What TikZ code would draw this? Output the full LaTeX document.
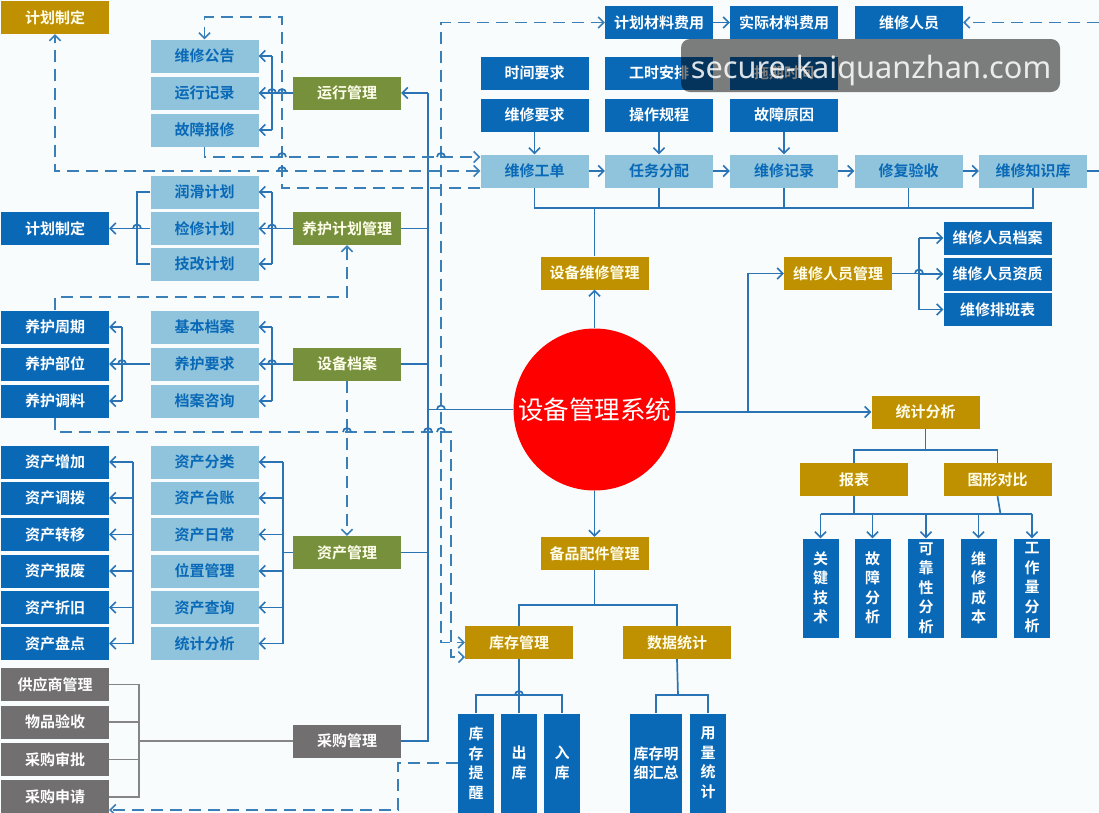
\documentclass[tikz,border=0pt]{standalone}
\usepackage{fontspec}
\setmainfont{Noto Sans CJK SC}[BoldFont={Noto Sans CJK SC Bold}]
\newfontfamily\wmfont{Noto Sans}
\usetikzlibrary{arrows.meta,calc}
\definecolor{cgold}{HTML}{BF9000}
\definecolor{cgreen}{HTML}{76903C}
\definecolor{cblue}{HTML}{0A69B7}
\definecolor{clight}{HTML}{8FC4DC}
\definecolor{cgrey}{HTML}{716F6F}
\definecolor{cline}{HTML}{2A74B5}
\definecolor{cdash}{HTML}{3A7FB8}
\definecolor{cglink}{HTML}{858585}
\definecolor{cbg}{HTML}{F8FCFC}
\tikzset{
  x=1pt,y=-1pt,
  box/.style={minimum width=108pt,minimum height=33pt,inner sep=0pt,font=\fontsize{15}{19.5}\selectfont\bfseries,text centered},
  gold/.style={box,fill=cgold,text=white!92!yellow},
  green/.style={box,fill=cgreen,text=white!92!yellow},
  blue/.style={box,fill=cblue,text=white},
  light/.style={box,fill=clight,text=cblue},
  grey/.style={box,fill=cgrey,text=white},
  tall/.style={blue,minimum width=36pt,minimum height=99pt,text width=18pt,align=center},
  lnk/.style={draw=cline,line width=1.7pt},
  arr/.style={lnk,-{Straight Barb[length=5.5pt,width=11pt,line width=1.6pt]}},
  dsh/.style={draw=cdash,line width=1.8pt,dash pattern=on 12pt off 7pt},
  darr/.style={dsh,-{Straight Barb[length=5.5pt,width=11pt,line width=1.6pt]}},
  dboth/.style={dsh,{Straight Barb[length=5.5pt,width=11pt,line width=1.6pt]}-{Straight Barb[length=5.5pt,width=11pt,line width=1.6pt]}},
  gln/.style={draw=cglink,line width=1.7pt},
}
\newcommand{\hop}[2]{\draw[lnk] (#1-4,#2) arc[start angle=180,end angle=360,radius=4];}
\begin{document}
\begin{tikzpicture}
\useasboundingbox (0,0) rectangle (1099,812);
\fill[cbg] (0,0) rectangle (1099,812);
% left column
\node[gold] (pg) at (55,17.5) {计划制定};
\node[blue] (pb) at (55,228.5) {计划制定};
\node[blue] (y1) at (55,327) {养护周期};
\node[blue] (y2) at (55,364) {养护部位};
\node[blue] (y3) at (55,401) {养护调料};
\node[blue] (a1) at (55,462) {资产增加};
\node[blue] (a2) at (55,498) {资产调拨};
\node[blue] (a3) at (55,534.5) {资产转移};
\node[blue] (a4) at (55,571) {资产报废};
\node[blue] (a5) at (55,607.5) {资产折旧};
\node[blue] (a6) at (55,643.5) {资产盘点};
\node[grey] (g1) at (55,684.5) {供应商管理};
\node[grey] (g2) at (55,722) {物品验收};
\node[grey] (g3) at (55,759.5) {采购审批};
\node[grey,minimum height=34pt] (g4) at (55,797) {采购申请};
% middle column
\node[light] (r1) at (204.5,56) {维修公告};
\node[light] (r2) at (204.5,93) {运行记录};
\node[light] (r3) at (204.5,130) {故障报修};
\node[light] (m1) at (204.5,192) {润滑计划};
\node[light] (m2) at (204.5,228.5) {检修计划};
\node[light] (m3) at (204.5,264) {技改计划};
\node[light] (d1) at (204.5,327) {基本档案};
\node[light] (d2) at (204.5,364) {养护要求};
\node[light] (d3) at (204.5,401) {档案咨询};
\node[light] (z1) at (204.5,462) {资产分类};
\node[light] (z2) at (204.5,498) {资产台账};
\node[light] (z3) at (204.5,534.5) {资产日常};
\node[light] (z4) at (204.5,571) {位置管理};
\node[light] (z5) at (204.5,607.5) {资产查询};
\node[light] (z6) at (204.5,643.5) {统计分析};
% managers
\node[green] (yx) at (347,93) {运行管理};
\node[green] (yh) at (347,228.5) {养护计划管理};
\node[green] (sb) at (347,364) {设备档案};
\node[green] (zc) at (347,552.5) {资产管理};
\node[grey] (cg) at (347,741) {采购管理};
% top rows
\node[blue] (t1) at (659,22.5) {计划材料费用};
\node[blue] (t2) at (784,22.5) {实际材料费用};
\node[blue] (t3) at (909,22.5) {维修人员};
\node[blue] (q1) at (534.5,73) {时间要求};
\node[blue] (q2) at (659,73) {工时安排};
\node[blue] (q3) at (784,73) {拖期时间};
\node[blue] (w1) at (534.5,115) {维修要求};
\node[blue] (w2) at (659,115) {操作规程};
\node[blue] (w3) at (784,115) {故障原因};
\node[light] (k1) at (534.5,171) {维修工单};
\node[light] (k2) at (659,171) {任务分配};
\node[light] (k3) at (784,171) {维修记录};
\node[light] (k4) at (908.5,171) {修复验收};
\node[light] (k5) at (1033,171) {维修知识库};
\node[gold] (wx) at (594.5,273) {设备维修管理};
% circle
\node[circle,fill=red,minimum size=162pt,inner sep=0pt,text=white,font=\fontsize{25.5}{30}\selectfont] (c) at (594.5,409.5) {设备管理系统};
% right
\node[gold] (ry) at (838,273.5) {维修人员管理};
\node[blue] (e1) at (997.5,238) {维修人员档案};
\node[blue] (e2) at (997.5,274) {维修人员资质};
\node[blue] (e3) at (997.5,309.5) {维修排班表};
\node[gold] (tj) at (925.5,412) {统计分析};
\node[gold] (bb) at (854,479.5) {报表};
\node[gold] (tx) at (997.5,479.5) {图形对比};
\node[tall] (v1) at (820.5,588) {关\\键\\技\\术};
\node[tall] (v2) at (872.5,588) {故\\障\\分\\析};
\node[tall] (v3) at (926,588) {可\\靠\\性\\分\\析};
\node[tall] (v4) at (978.5,588) {维\\修\\成\\本};
\node[tall] (v5) at (1032,588) {工\\作\\量\\分\\析};
% bottom
\node[gold] (bp) at (594.5,553.5) {备品配件管理};
\node[gold] (kc) at (519,642.5) {库存管理};
\node[gold] (sj) at (677,642.5) {数据统计};
\node[tall] (b1) at (476,763) {库\\存\\提\\醒};
\node[tall] (b2) at (519,763) {出\\库};
\node[tall] (b3) at (562,763) {入\\库};
\node[tall,minimum width=52pt,text width=52pt] (b4) at (656,763) {库存明\\细汇总};
\node[tall] (b5) at (708,763) {用\\量\\统\\计};
% coordinates
\coordinate (tr) at (428,409.5);
\coordinate (bA) at (272,0);
\coordinate (bB) at (283,0);
\coordinate (lA) at (137,0);
\coordinate (lB) at (122,0);
\coordinate (lC) at (133,0);
\coordinate (gB) at (139,0);
% trunk
\draw[lnk] (tr |- yx.east) -- (tr |- cg.east) -- (cg.east);
\draw[arr] (tr |- yx.east) -- (yx.east);
\draw[lnk] (yh.east) -- (tr |- yh.east);
\draw[lnk] (sb.east) -- (tr |- sb.east);
\draw[lnk] (zc.east) -- (tr |- zc.east);
\draw[lnk] (c.west) -- (tr);
% brackets middle
\draw[lnk] (yx.west) -- (bA |- yx.west);
\draw[lnk] (bA |- r1.east) -- (bA |- r3.east);
\foreach \n in {r1,r2,r3} \draw[arr] (bA |- \n.east) -- (\n.east);
\draw[lnk] (yh.west) -- (bA |- yh.west);
\draw[lnk] (bA |- m1.east) -- (bA |- m3.east);
\foreach \n in {m1,m2,m3} \draw[arr] (bA |- \n.east) -- (\n.east);
\draw[lnk] (sb.west) -- (bA |- sb.west);
\draw[lnk] (bA |- d1.east) -- (bA |- d3.east);
\foreach \n in {d1,d2,d3} \draw[arr] (bA |- \n.east) -- (\n.east);
\draw[lnk] (zc.west) -- (bB |- zc.west);
\draw[lnk] (bB |- z1.east) -- (bB |- z6.east);
\foreach \n in {z1,z2,z3,z4,z5,z6} \draw[arr] (bB |- \n.east) -- (\n.east);
% brackets left
\draw[lnk] (m1.west) -- (lA |- m1.west) -- (lA |- m3.west) -- (m3.west);
\draw[lnk] (m2.west) -- (lA |- m2.west);
\draw[arr] (lA |- pb.east) -- (pb.east);
\draw[lnk] (d2.west) -- (lB |- d2.west);
\draw[lnk] (lB |- y1.east) -- (lB |- y3.east);
\foreach \n in {y1,y2,y3} \draw[arr] (lB |- \n.east) -- (\n.east);
\draw[lnk] (lC |- a1.east) -- (lC |- a6.east);
\foreach \n in {a1,a2,a3,a4,a5,a6} \draw[arr] (lC |- \n.east) -- (\n.east);
% grey
\draw[gln] (g1.east) -- (gB |- g1.east) -- (gB |- g4.east) -- (g4.east);
\draw[gln] (g2.east) -- (gB |- g2.east);
\draw[gln] (g3.east) -- (gB |- g3.east);
\draw[gln] (cg.west) -- (gB |- cg.west);
% top
\draw[arr] (t1.east) -- (t2.west);
\foreach \a/\b in {w1/k1,w2/k2,w3/k3} \draw[arr] (\a.south) -- (\b.north);
\foreach \a/\b in {k1/k2,k2/k3,k3/k4,k4/k5} \draw[arr] (\a.east) -- (\b.west);
\coordinate (rim) at (1099,171);
\draw[lnk] (k5.east) -- (rim);
\coordinate (col) at (0,208);
\draw[lnk] (k1.south) -- (k1.south |- col) -- (k5.south |- col) -- (k5.south);
\foreach \n in {k2,k3,k4} \draw[lnk] (\n.south) -- (\n.south |- col);
\draw[lnk] (wx.north) -- (wx.north |- col);
\draw[arr] (c.north) -- (wx.south);
% right side
\coordinate (tt) at (748,0);
\draw[arr] (c.east |- tj.west) -- (tj.west);
\draw[arr] (tt |- tj.west) -- (tt |- ry.west) -- (ry.west);
\coordinate (rb) at (919,0);
\draw[lnk] (ry.east) -- (rb |- ry.east);
\draw[arr] (rb |- e2.west) -- (e2.west);
\draw[arr] (rb |- e1.west) -- (e1.west);
\draw[arr] (rb |- e3.west) -- (e3.west);
\draw[lnk] (rb |- e1.west) -- (rb |- e3.west);
\coordinate (s1) at (0,450);
\draw[lnk] (tj.south) -- (tj.south |- s1);
\draw[lnk] (bb.north) -- (bb.north |- s1) -- (tx.north |- s1) -- (tx.north);
\coordinate (s2) at (0,514);
\draw[lnk] (bb.south) -- (bb.south |- s2);
\draw[lnk] (tx.south) -- ($(tx.south |- s2)+(3,0)$);
\draw[lnk] (v1.north |- s2) -- (v5.north |- s2);
\foreach \n in {v1,v2,v3,v4,v5} \draw[arr] (\n.north |- s2) -- (\n.north);
% bottom
\draw[arr] (c.south) -- (bp.north);
\coordinate (s3) at (0,605);
\draw[lnk] (bp.south) -- (bp.south |- s3);
\draw[lnk] (kc.north) -- (kc.north |- s3) -- (sj.north |- s3) -- (sj.north);
\coordinate (s4) at (0,695);
\draw[lnk] (kc.south) -- (b2.north);
\draw[lnk] (b1.north) -- (b1.north |- s4) -- (b3.north |- s4) -- (b3.north);
\draw[lnk] (sj.south) -- ($(sj.south |- s4)+(1,0)$);
\draw[lnk] (b4.north) -- (b4.north |- s4) -- (b5.north |- s4) -- (b5.north);
% dashed
\draw[dboth] (k1.west) -- (pg.south |- k1.west) -- (pg.south);
\coordinate (l157) at (0,157);
\draw[darr] (r3.south) -- (r3.south |- l157) -- (k1.west |- l157);
\coordinate (l17) at (282,17);
\draw[darr] (k1.south west) -- (l17 |- k1.south west) -- (l17) -- (r1.north |- l17) -- (r1.north);
\coordinate (top) at (441,22.5);
\draw[dboth] (t1.west) -- (top) -- (top |- kc.west) -- (kc.west);
\coordinate (l432) at (451,432);
\coordinate (l657) at (451,657);
\coordinate (kce) at (465,657);
\draw[darr] (y3.south) -- (y3.south |- l432) -- (l432) -- (l657) -- (kce);
\coordinate (l297) at (0,297);
\draw[darr] (y1.north) -- (y1.north |- l297) -- (yh.south |- l297) -- (yh.south);
\draw[darr] (sb.south) -- (zc.north);
\coordinate (er) at (1099,22.5);
\draw[darr] (er) -- (t3.east);
\coordinate (l398) at (398,810);
\draw[darr] (b1.west) -- (l398 |- b1.west) -- (l398) -- (g4.east |- l398);
% hops
\hop{272}{93}\hop{282}{93}\hop{272}{228.5}\hop{137}{228.5}\hop{122}{364}\hop{272}{364}\hop{441}{409.5}\hop{919}{273.5}\hop{519}{695}\hop{441}{157}\hop{282}{157}\hop{282}{171}\hop{428}{432}\hop{441}{432}\hop{347}{432}
% watermark
\fill[black,opacity=.5,rounded corners=9pt] (681,39) rectangle (1060,92);
\node[text=white,opacity=.85,font=\wmfont\fontsize{30.7}{36}\selectfont,inner sep=0pt] (wm) at (871,71) {secure-kaiquanzhan.com};
\end{tikzpicture}
\end{document}
